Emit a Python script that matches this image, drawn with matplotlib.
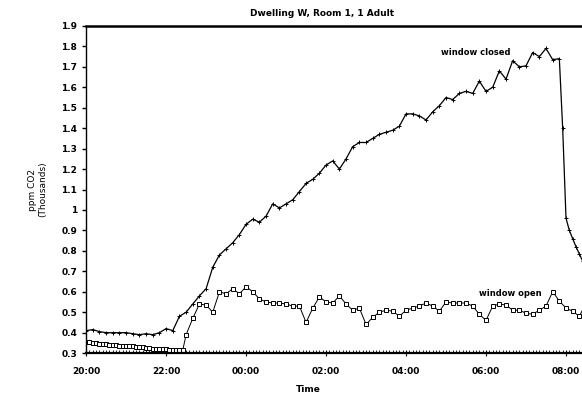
import matplotlib
matplotlib.use("Agg")
import matplotlib.pyplot as plt

# minutes after 20:00 and CO2 in thousands of ppm
closed_min = list(range(0, 711, 10)) + [715, 720, 725, 730, 735, 740, 745]
closed_ppm = [0.41, 0.415, 0.405, 0.40, 0.40, 0.40, 0.40, 0.395, 0.39, 0.395, 0.39, 0.40,
              0.42, 0.41, 0.48, 0.50, 0.54, 0.58, 0.615, 0.72, 0.78, 0.81, 0.84, 0.88,
              0.93, 0.955, 0.94, 0.97, 1.03, 1.01, 1.03, 1.05, 1.09, 1.13, 1.15, 1.18,
              1.22, 1.24, 1.20, 1.25, 1.31, 1.33, 1.33, 1.35, 1.37, 1.38, 1.39, 1.41,
              1.47, 1.47, 1.46, 1.44, 1.48, 1.51, 1.55, 1.54, 1.57, 1.58, 1.57, 1.63,
              1.58, 1.60, 1.68, 1.64, 1.73, 1.70, 1.705, 1.77, 1.75, 1.79, 1.735, 1.74,
              1.40, 0.96, 0.90, 0.86, 0.82, 0.785, 0.75]

open_min = list(range(0, 146, 5)) + list(range(150, 751, 10))
open_ppm = [0.355, 0.352, 0.35, 0.348, 0.346, 0.344, 0.343, 0.342, 0.34, 0.338, 0.337, 0.336,
            0.335, 0.334, 0.333, 0.332, 0.33, 0.328, 0.325, 0.324, 0.322, 0.321, 0.32, 0.319,
            0.318, 0.317, 0.316, 0.316, 0.315, 0.315,
            0.39, 0.47, 0.54, 0.535, 0.50, 0.60, 0.59, 0.615, 0.59, 0.625, 0.60, 0.565,
            0.55, 0.545, 0.545, 0.54, 0.53, 0.53, 0.45, 0.52, 0.575, 0.55, 0.545, 0.58,
            0.54, 0.51, 0.52, 0.44, 0.475, 0.50, 0.51, 0.505, 0.48, 0.51, 0.52, 0.53,
            0.545, 0.53, 0.505, 0.55, 0.545, 0.545, 0.545, 0.53, 0.49, 0.46, 0.53, 0.54,
            0.535, 0.51, 0.51, 0.495, 0.49, 0.51, 0.53, 0.60, 0.555, 0.52, 0.505, 0.48, 0.545]

time_labels = ["20:00", "22:00", "00:00", "02:00", "04:00", "06:00", "08:00"]

plt.rcParams['font.family'] = ['DejaVu Sans']
fig = plt.figure(figsize=(5.82, 3.99), dpi=100)
ax = fig.add_axes([0.148, 0.115, 0.852, 0.82])

ax.plot([m / 60 for m in closed_min], closed_ppm, color='black', lw=0.9,
        marker='+', ms=3, mew=0.7)
ax.plot([m / 60 for m in open_min], open_ppm, color='black', lw=0.7,
        marker='s', ms=3.4, mfc='white', mew=0.7)

ax.text(10.6, 1.77, "window closed", fontsize=6, fontweight='bold', ha='right', va='center')
ax.text(11.4, 0.59, "window open", fontsize=6, fontweight='bold', ha='right', va='center')

ax.set_xlim(0, 12.4)
ax.set_ylim(0.3, 1.9)
ax.set_xticks(range(0, 13, 2))
ax.set_xticklabels(time_labels)
ax.set_xticks([m / 60 for m in range(0, 745, 5)], minor=True)
ax.set_yticks([0.3 + i * 0.1 for i in range(17)])
ax.set_yticklabels(["%g" % round(0.3 + i * 0.1, 1) for i in range(17)])

ax.tick_params(axis='x', which='major', labelsize=6.5, direction='inout', length=4, pad=8)
ax.tick_params(axis='x', which='minor', direction='in', length=2.5, width=0.6)
ax.tick_params(axis='y', labelsize=6.5, direction='out', length=3, width=1)
for lab in ax.get_xticklabels() + ax.get_yticklabels():
    lab.set_fontweight('bold')

ax.spines['right'].set_visible(False)
ax.spines['top'].set_linewidth(1.8)
ax.spines['bottom'].set_linewidth(1.6)
ax.spines['left'].set_linewidth(1.0)

fig.text(0.553, 0.967, "Dwelling W, Room 1, 1 Adult", fontsize=6.5, fontweight='bold',
         ha='center', va='center')
fig.text(0.065, 0.525, "ppm CO2\n(Thousands)", fontsize=6.5, rotation=90,
         ha='center', va='center', linespacing=1.1)
fig.text(0.53, 0.025, "Time", fontsize=6.5, fontweight='bold', ha='center', va='center')

fig.savefig("out.png", dpi=100)
